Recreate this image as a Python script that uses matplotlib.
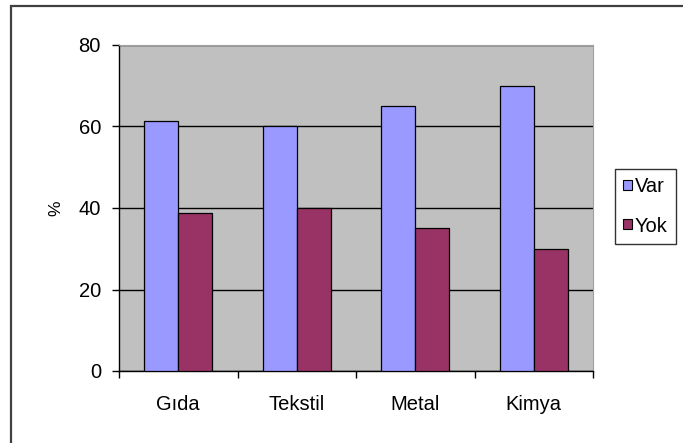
import matplotlib
matplotlib.use("Agg")
import matplotlib.pyplot as plt
from matplotlib.patches import Rectangle
import numpy as np

categories = ["Gıda", "Tekstil", "Metal", "Kimya"]
var_values = [61.3, 60.0, 65.0, 70.0]
yok_values = [38.7, 40.0, 35.0, 30.0]
series_names = ["Var", "Yok"]
yticks = [0, 20, 40, 60, 80]

plt.rcParams['font.family'] = ['Liberation Sans', 'DejaVu Sans']
FS = 14.5

fig = plt.figure(figsize=(6.83, 4.43), dpi=100)
fig.patch.set_facecolor("white")

# outer chart border (extends beyond right/bottom edges)
fig.patches.append(Rectangle((11/683, -0.05), 1.2, (443 - 5.5)/443 + 0.05,
                             transform=fig.transFigure, fill=False,
                             edgecolor="#404040", linewidth=1.6, zorder=0))

ax = fig.add_axes([119/683, (443-371)/443, (593-119)/683, (371-45)/443])
ax.set_facecolor("#C0C0C0")

x = np.arange(len(categories))
w = 1 / 3.5
ax.bar(x - w/2, var_values, width=w, color="#9999FF", edgecolor="black",
       linewidth=0.9, label=series_names[0], zorder=3)
ax.bar(x + w/2, yok_values, width=w, color="#993366", edgecolor="black",
       linewidth=0.9, label=series_names[1], zorder=3)

ax.set_xlim(-0.5, len(categories) - 0.5)
ax.set_ylim(0, 80)
ax.set_yticks(yticks)
ax.yaxis.grid(True, color="black", linewidth=1.0, zorder=1)
ax.set_axisbelow(True)

ax.set_xticks(np.arange(len(categories) + 1) - 0.5)
ax.set_xticklabels([])
ax.set_xticks(x, minor=True)
ax.set_xticklabels(categories, minor=True)
ax.tick_params(axis="x", which="minor", length=0, pad=17, labelsize=FS)
ax.tick_params(axis="x", which="major", direction="out", length=5, width=1.0)
ax.tick_params(axis="y", direction="out", length=5, width=1.0, labelsize=FS, pad=8)

ax.spines["top"].set_color("#A0A0A0")
ax.spines["right"].set_color("#A0A0A0")
ax.spines["top"].set_linewidth(0.8)
ax.spines["right"].set_linewidth(0.8)
ax.spines["left"].set_linewidth(1.0)
ax.spines["bottom"].set_linewidth(1.0)

ax.set_ylabel("%", fontsize=FS - 2, labelpad=11)

leg = ax.legend(loc="upper left", bbox_to_anchor=(615/683, (443-169)/443),
                bbox_transform=fig.transFigure, frameon=True, fancybox=False,
                edgecolor="black", fontsize=FS, handlelength=0.4,
                handleheight=0.4, handletextpad=0.15, borderpad=0.42,
                labelspacing=1.0, borderaxespad=0)
leg.get_frame().set_linewidth(1.0)
for h in leg.legend_handles:
    h.set_edgecolor("black")
    h.set_linewidth(0.8)

fig.savefig("out.png", dpi=100)
